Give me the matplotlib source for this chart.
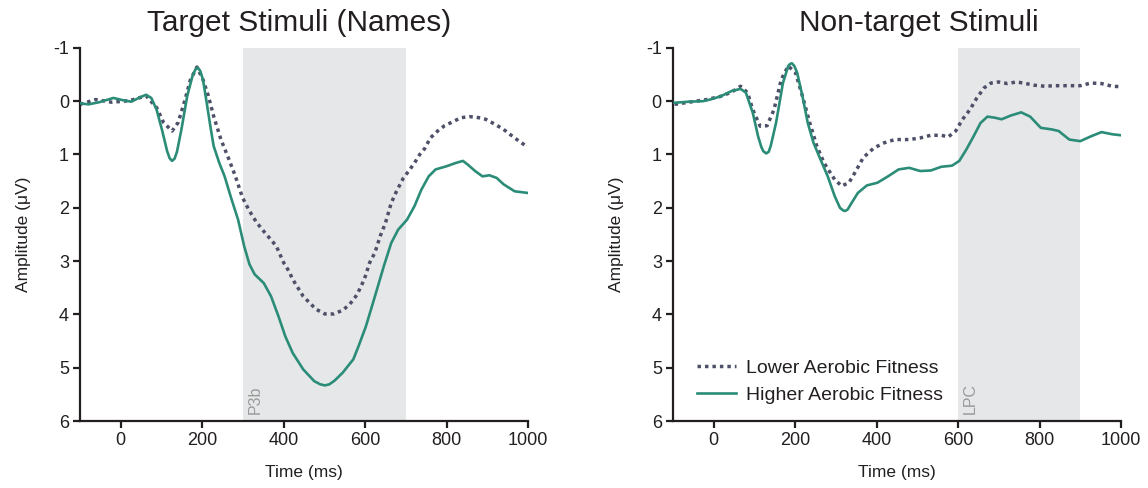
import matplotlib
matplotlib.use("Agg")
import matplotlib.pyplot as plt

plt.rcParams['font.family'] = ['Liberation Sans', 'DejaVu Sans']

# --- Target stimuli (names) ---
target_low_t = [-100, -62, -22, 22, 62, 88, 105, 126, 141, 158, 171, 187, 202, 215, 228, 246,
                264, 281, 299, 316, 334, 351, 369, 382, 400, 413, 422, 448, 479, 501, 523, 545,
                562, 580, 598, 611, 624, 637, 650, 664, 677, 694, 707, 721, 734, 747, 760, 778,
                795, 817, 835, 857, 879, 896, 918, 940, 967, 993]
target_low_v = [0.06, -0.03, 0.02, -0.01, -0.1, 0.12, 0.4, 0.56, 0.4, -0.03, -0.4, -0.64, -0.4,
                -0.1, 0.28, 0.72, 1.06, 1.4, 1.81, 2.06, 2.28, 2.44, 2.6, 2.72, 3.03, 3.19, 3.34,
                3.66, 3.9, 3.99, 3.99, 3.92, 3.81, 3.63, 3.34, 3.03, 2.84, 2.53, 2.28, 1.91, 1.69,
                1.44, 1.31, 1.16, 1.0, 0.88, 0.69, 0.56, 0.46, 0.38, 0.31, 0.29, 0.31, 0.34, 0.43,
                0.53, 0.69, 0.83]
target_high_t = [-100, -79, -53, -18, 4, 26, 44, 62, 75, 88, 101, 114, 120, 126, 132, 138, 149,
                 163, 176, 183, 189, 195, 202, 211, 220, 228, 242, 255, 272, 288, 303, 316, 329,
                 351, 369, 387, 404, 422, 448, 475, 490, 501, 512, 525, 545, 571, 584, 602, 624,
                 646, 664, 681, 703, 721, 738, 756, 773, 800, 822, 840, 852, 870, 888, 905, 923,
                 940, 967, 998]
target_high_v = [0.04, 0.06, 0.02, -0.06, -0.02, 0.01, -0.06, -0.12, -0.06, 0.16, 0.53, 0.94,
                 1.07, 1.12, 1.08, 0.95, 0.53, -0.09, -0.47, -0.59, -0.63, -0.57, -0.4, 0.03,
                 0.47, 0.84, 1.16, 1.41, 1.84, 2.22, 2.72, 3.06, 3.25, 3.41, 3.66, 4.03, 4.41,
                 4.72, 5.03, 5.25, 5.31, 5.33, 5.31, 5.24, 5.09, 4.84, 4.59, 4.22, 3.66, 3.09,
                 2.66, 2.41, 2.22, 1.97, 1.66, 1.41, 1.28, 1.22, 1.16, 1.12, 1.19, 1.31, 1.41,
                 1.39, 1.44, 1.56, 1.69, 1.72]

# --- Non-target stimuli ---
nontarget_low_t = [-96, -61, -17, 17, 44, 66, 83, 96, 114, 131, 148, 166, 183, 201, 218, 236,
                   253, 271, 297, 314, 332, 349, 367, 393, 419, 445, 480, 507, 533, 559, 576,
                   594, 611, 629, 646, 664, 681, 699, 721, 743, 760, 786, 812, 838, 869, 900,
                   926, 952, 978, 1000]
nontarget_low_v = [0.06, 0.02, -0.03, -0.09, -0.17, -0.28, -0.16, 0.16, 0.47, 0.46, 0.16, -0.41,
                   -0.66, -0.53, -0.09, 0.41, 0.84, 1.16, 1.47, 1.59, 1.53, 1.31, 1.06, 0.88,
                   0.78, 0.72, 0.72, 0.69, 0.64, 0.64, 0.67, 0.56, 0.34, 0.16, -0.06, -0.25,
                   -0.34, -0.36, -0.33, -0.36, -0.34, -0.3, -0.28, -0.29, -0.29, -0.29, -0.34,
                   -0.33, -0.28, -0.27]
nontarget_high_t = [-96, -61, -26, -9, 17, 44, 66, 79, 96, 109, 117, 122, 129, 135, 140, 153,
                    170, 183, 188, 192, 198, 205, 218, 231, 245, 262, 280, 297, 310, 318, 323,
                    329, 336, 354, 376, 402, 428, 454, 480, 507, 533, 559, 585, 603, 620, 638,
                    655, 672, 690, 707, 729, 755, 777, 803, 830, 847, 873, 900, 926, 952, 978,
                    1000]
nontarget_high_v = [0.03, 0.01, 0.0, -0.03, -0.09, -0.19, -0.23, -0.16, 0.22, 0.66, 0.86, 0.94,
                    0.98, 0.95, 0.84, 0.41, -0.34, -0.66, -0.7, -0.71, -0.66, -0.53, -0.09,
                    0.41, 0.78, 1.09, 1.41, 1.78, 2.0, 2.05, 2.06, 2.03, 1.94, 1.72, 1.58, 1.53,
                    1.41, 1.28, 1.25, 1.31, 1.3, 1.23, 1.21, 1.12, 0.91, 0.66, 0.41, 0.29, 0.31,
                    0.34, 0.27, 0.21, 0.29, 0.5, 0.53, 0.56, 0.72, 0.75, 0.66, 0.58, 0.62, 0.64]

panels = [
    ('Target Stimuli (Names)', target_low_t, target_low_v, target_high_t, target_high_v,
     (300, 700), 'P3b'),
    ('Non-target Stimuli', nontarget_low_t, nontarget_low_v, nontarget_high_t, nontarget_high_v,
     (600, 900), 'LPC'),
]

low_color = '#4d5068'
high_color = '#2b8c78'
shade_color = '#e6e7e8'
ink = '#231f20'

fig = plt.figure(figsize=(11.48, 4.88), dpi=100)
axes = [fig.add_axes([0.0697, 0.137, 0.3903, 0.765]),
        fig.add_axes([0.5862, 0.137, 0.3903, 0.765])]

for i, (ax, (title, lt, lv, ht, hv, win, win_label)) in enumerate(zip(axes, panels)):
    ax.axvspan(win[0], win[1], color=shade_color, lw=0, zorder=0)
    ax.plot(lt, lv, color=low_color, lw=2.5, linestyle=(0, (1, 1.15)),
            dash_capstyle='butt', label='Lower Aerobic Fitness', zorder=2)
    ax.plot(ht, hv, color=high_color, lw=1.9, label='Higher Aerobic Fitness', zorder=3)

    ax.set_xlim(-100, 1000)
    ax.set_ylim(6, -1)
    ax.set_xticks([0, 200, 400, 600, 800, 1000])
    ax.set_yticks(range(-1, 7))
    ax.set_yticklabels([str(v) for v in range(-1, 7)])

    for side in ['top', 'right']:
        ax.spines[side].set_visible(False)
    for side in ['left', 'bottom']:
        ax.spines[side].set_linewidth(1.6)
        ax.spines[side].set_color(ink)
    ax.tick_params(direction='out', length=5, width=1.6, color=ink,
                   labelsize=13, labelcolor=ink, pad=3)

    ax.set_xlabel('Time (ms)', fontsize=12.5, color=ink, labelpad=11)
    ax.set_ylabel('Amplitude (\u03bcV)', fontsize=12.5, color=ink, labelpad=16)

    title_x = 0.49 if i == 0 else 0.549
    ax.text(title_x, 1.03, title, transform=ax.transAxes, ha='center', va='bottom',
            fontsize=21.5, color=ink)

    ax.text(win[0] + 12, 5.87, win_label, rotation=90, ha='left', va='bottom',
            fontsize=11.5, color='#9a9a9a')

axes[1].legend(loc='lower left', bbox_to_anchor=(0.015, 0.0), frameon=False,
               fontsize=14, handlelength=2.0, handletextpad=0.5, labelspacing=0.45,
               labelcolor=ink)

fig.savefig('out.png', dpi=100)
